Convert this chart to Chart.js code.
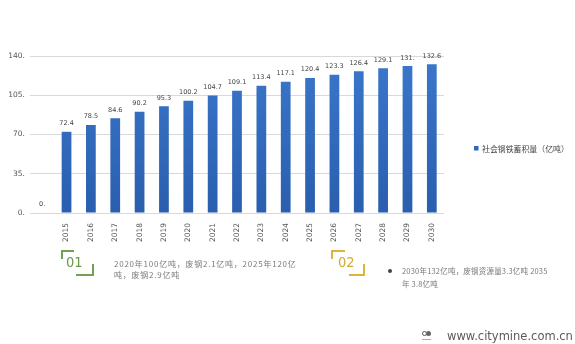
<!DOCTYPE html>
<html><head><meta charset="utf-8">
<script src="https://cdn.jsdelivr.net/npm/chart.js@4/dist/chart.umd.min.js"></script>
<style>
html,body{margin:0;padding:0;background:#fff;width:575px;height:344px;overflow:hidden;font-family:"Noto Sans CJK SC","DejaVu Sans",sans-serif;}
#wrap{position:absolute;left:0;top:0;width:575px;height:344px;}
.note{position:absolute;color:#7a7a7a;white-space:nowrap;}
.num{position:absolute;font-family:"Liberation Sans Narrow","DejaVu Sans Condensed",sans-serif;font-size:14.5px;line-height:14px;}
</style></head><body>
<div id="wrap"><canvas id="c" width="575" height="344"></canvas></div>
<!-- 01 bracket -->
<div style="position:absolute;left:61px;top:250px;width:13px;height:9px;border-left:2px solid #74a052;border-top:2px solid #74a052;box-sizing:border-box;"></div>
<div class="num" style="left:66px;top:255px;color:#6a9a48;">01</div>
<div style="position:absolute;left:76px;top:264px;width:18px;height:12px;border-right:2px solid #74a052;border-bottom:2px solid #74a052;box-sizing:border-box;"></div>
<div class="note" style="left:114px;top:258px;font-size:8px;line-height:11.4px;letter-spacing:0.76px;">2020年100亿吨，废钢2.1亿吨，2025年120亿<br>吨，废钢2.9亿吨</div>
<!-- 02 bracket -->
<div style="position:absolute;left:331px;top:250px;width:14px;height:9px;border-left:2px solid #d9b63a;border-top:2px solid #d9b63a;box-sizing:border-box;"></div>
<div class="num" style="left:338px;top:255px;color:#d2ad2e;">02</div>
<div style="position:absolute;left:349px;top:264px;width:16px;height:12px;border-right:2px solid #d9b63a;border-bottom:2px solid #d9b63a;box-sizing:border-box;"></div>
<div style="position:absolute;left:388px;top:269px;width:4px;height:4px;border-radius:2px;background:#444;"></div>
<div class="note" style="left:402px;top:265px;font-size:7.5px;line-height:12.6px;letter-spacing:0.2px;">2030年132亿吨，废钢资源量3.3亿吨 2035<br>年 3.8亿吨</div>
<!-- watermark -->
<div style="position:absolute;left:422px;top:331px;width:5px;height:5px;border-radius:3px;border:1.5px solid #555;box-sizing:border-box;"></div>
<div style="position:absolute;left:426px;top:331px;width:5px;height:5px;border-radius:3px;background:#666;"></div>
<div style="position:absolute;left:422px;top:338.5px;width:9px;height:1px;background:#aaa;"></div>
<div style="position:absolute;left:447px;top:330px;font-family:'DejaVu Sans',sans-serif;font-size:11.5px;line-height:13px;color:#5a5a5a;">www.citymine.com.cn</div>
<script>
const categories = ['', '2015','2016','2017','2018','2019','2020','2021','2022','2023','2024','2025','2026','2027','2028','2029','2030'];
const stockValues = [0, 72.4, 78.5, 84.6, 90.2, 95.3, 100.2, 104.7, 109.1, 113.4, 117.1, 120.4, 123.3, 126.4, 129.1, 131, 132.6];
const seriesName = '社会钢铁蓄积量（亿吨）';
const yTicks = [0, 35, 70, 105, 140];

function fmt(v){ return Number.isInteger(v) ? v + '.' : String(v); }

const labelPlugin = {
  id: 'barLabels',
  afterDatasetsDraw(chart){
    const ctx = chart.ctx;
    const meta = chart.getDatasetMeta(0);
    ctx.save();
    ctx.font = '6.5px "DejaVu Sans", sans-serif';
    ctx.fillStyle = '#444';
    ctx.textAlign = 'center';
    ctx.textBaseline = 'bottom';
    meta.data.forEach((bar, i) => {
      ctx.fillText(fmt(stockValues[i]), bar.x, bar.y - 5);
    });
    ctx.restore();
  }
};

const ctx = document.getElementById('c').getContext('2d');
const grad = ctx.createLinearGradient(0, 56, 0, 213);
grad.addColorStop(0, '#3a77cb');
grad.addColorStop(1, '#2a5eae');

new Chart(ctx, {
  type: 'bar',
  data: { labels: categories, datasets: [{ label: seriesName, data: stockValues, backgroundColor: grad, barPercentage: 0.8, categoryPercentage: 0.5 }] },
  options: {
    responsive: false, animation: false,
    layout: { padding: { left: 0, right: 131, top: 56, bottom: 0 } },
    plugins: {
      legend: { display: false },
      tooltip: { enabled: false }
    },
    scales: {
      x: {
        grid: { display: false }, border: { display: false },
        ticks: { minRotation: 90, maxRotation: 90, autoSkip: false, color: '#555', font: { size: 7.5, family: '"DejaVu Sans", sans-serif' }, padding: 2 },
        afterFit(s){ s.height = 131; }
      },
      y: {
        min: 0, max: 140,
        afterBuildTicks(s){ s.ticks = yTicks.map(v => ({ value: v })); },
        grid: { color: '#d9d9d9', lineWidth: 1, drawTicks: false },
        border: { display: false },
        ticks: { callback: v => fmt(v), color: '#555', font: { size: 7.5, family: '"DejaVu Sans", sans-serif' }, padding: 5 },
        afterFit(s){ s.width = 30; }
      }
    }
  },
  plugins: [labelPlugin, {
    id: 'legendBox',
    afterDraw(chart){
      const c = chart.ctx;
      c.save();
      c.fillStyle = '#2f68b8';
      c.fillRect(474, 146, 4.5, 4.5);
      c.fillStyle = '#444';
      c.font = '7.9px "Noto Sans CJK SC", sans-serif';
      c.textBaseline = 'middle';
      c.fillText(seriesName, 482, 148.5);
      c.restore();
    }
  }]
});
</script>
</body></html>
